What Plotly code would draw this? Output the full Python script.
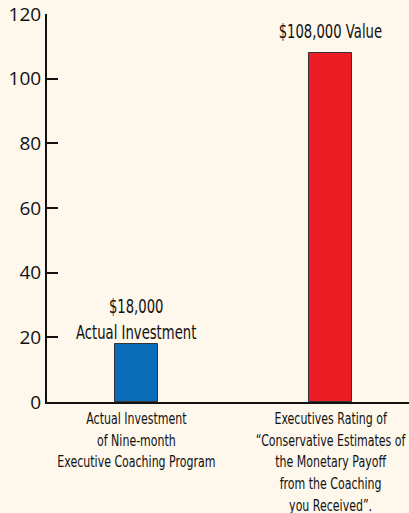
import plotly.graph_objects as go

categories = ["Actual Investment<br>of Nine-month<br>Executive Coaching Program",
              "Executives Rating of<br>“Conservative Estimates of<br>the Monetary Payoff<br>from the Coaching<br>you Received”."]
values = [18, 108]
bar_labels = ["$18,000<br>Actual Investment", "$108,000 Value"]
colors = ["#0A6DBA", "#EE1D25"]
y_ticks = [0, 20, 40, 60, 80, 100, 120]

label_shift = [-2, 8]
cond = "DejaVu Sans, sans-serif"

fig = go.Figure(go.Bar(
    x=[0, 1], y=values,
    marker=dict(color=colors, line=dict(color="#333333", width=1)),
    width=0.222,
))
for i, (v, lab) in enumerate(zip(values, bar_labels)):
    fig.add_annotation(x=i, y=v, text=lab, showarrow=False, yanchor="bottom",
                       yshift=label_shift[i],
                       font=dict(family=cond, size=20, color="#111111"))
fig.update_layout(
    width=409, height=513,
    margin=dict(l=47, r=0, t=14, b=111),
    paper_bgcolor="#FDF7EC", plot_bgcolor="#FDF7EC",
    showlegend=False,
    bargap=0,
    xaxis=dict(range=[-0.461, 1.405], tickvals=[0, 1], ticktext=categories,
               showline=True, linecolor="#111111", linewidth=2, showgrid=False,
               zeroline=False, ticks="", ticklabeloverflow="allow",
               tickangle=0, automargin=False,
               tickfont=dict(family=cond, size=16.7, color="#111111")),
    yaxis=dict(range=[0, 120], tickvals=y_ticks, showline=True, linecolor="#111111",
               linewidth=2, showgrid=False, zeroline=False, ticks="inside",
               ticklen=11, tickwidth=2, tickcolor="#111111", automargin=False,
               tickfont=dict(family="Open Sans, sans-serif", size=19, color="#111111")),
)

squeeze_js = """
document.body.style.margin='0';document.body.style.overflow='hidden';
function sq(sel,s){document.querySelectorAll(sel).forEach(function(t){
  if(t.getAttribute('data-sq'))return;
  var b=t.getBBox();var cx=b.x+b.width/2;var tr=t.getAttribute('transform')||'';
  t.setAttribute('transform',tr+' translate('+cx+',0) scale('+s+',1) translate('+(-cx)+',0)');
  t.setAttribute('data-sq','1');});}
function doSq(){sq('.xtick text',0.66);sq('.annotation-text',0.66);}
doSq();
var gd=document.getElementById('{plot_id}');
if(gd&&gd.on){gd.on('plotly_afterplot',doSq);}
setTimeout(doSq,50);
"""
fig.write_html("out.html", config=dict(displayModeBar=False), post_script=squeeze_js)
